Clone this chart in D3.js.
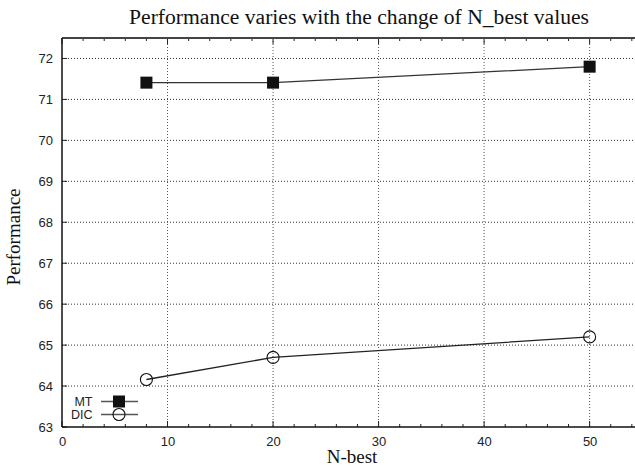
<!DOCTYPE html>
<html>
<head>
<meta charset="utf-8">
<script src="https://cdn.jsdelivr.net/npm/d3@7"></script>
<style>
  body { margin: 0; background: #fff; }
  .tick text { font-family: "Liberation Sans", Arial, sans-serif; }
</style>
</head>
<body>
<svg id="chart" width="635" height="467"></svg>
<script>
// data
var nBest = [8, 20, 50];
var mtValues = [71.41, 71.41, 71.80];
var dicValues = [64.16, 64.70, 65.20];
var seriesNames = ["MT", "DIC"];
var xTicks = [0, 10, 20, 30, 40, 50];
var yTicks = [63, 64, 65, 66, 67, 68, 69, 70, 71, 72];

var svg = d3.select("#chart");

// note: "top" clashes with window.top, so plot edges get their own names
var plotLeft = 62, plotRight = 635, plotTop = 38, plotBottom = 427;

var x = d3.scaleLinear().domain([0, 54.3]).range([plotLeft, plotRight]);
var y = d3.scaleLinear().domain([63, 72.5]).range([plotBottom, plotTop]);

// grid
svg.append("g")
  .selectAll("line")
  .data(yTicks.slice(1))
  .enter().append("line")
    .attr("x1", plotLeft).attr("x2", plotRight)
    .attr("y1", function(d){ return y(d); })
    .attr("y2", function(d){ return y(d); })
    .attr("stroke", "#333")
    .attr("stroke-width", 1)
    .attr("stroke-dasharray", "1,2");

svg.append("g")
  .selectAll("line")
  .data(xTicks.slice(1))
  .enter().append("line")
    .attr("x1", function(d){ return x(d); })
    .attr("x2", function(d){ return x(d); })
    .attr("y1", plotTop).attr("y2", plotBottom)
    .attr("stroke", "#555")
    .attr("stroke-width", 1)
    .attr("stroke-dasharray", "1,2");

// axes
var xAxis = d3.axisBottom(x).tickValues(xTicks).tickSize(0).tickPadding(10);
var gx = svg.append("g")
  .attr("transform", "translate(0," + plotBottom + ")")
  .call(xAxis);
gx.select(".domain").remove();
gx.selectAll(".tick text").attr("font-size", 13).attr("fill", "#222");

var yAxis = d3.axisLeft(y).tickValues(yTicks).tickSize(0).tickPadding(9);
var gy = svg.append("g")
  .attr("transform", "translate(" + plotLeft + ",0)")
  .call(yAxis);
gy.select(".domain").remove();
gy.selectAll(".tick text").attr("font-size", 13).attr("fill", "#222");

// ticks inside the frame
var minorX = d3.range(0, 55, 2);
svg.append("g").selectAll("line")
  .data(minorX)
  .enter().append("line")
    .attr("x1", function(d){ return x(d); })
    .attr("x2", function(d){ return x(d); })
    .attr("y1", plotBottom)
    .attr("y2", function(d){ return plotBottom - (d % 10 == 0 ? 6 : 3); })
    .attr("stroke", "#222");

svg.append("g").selectAll("line")
  .data(minorX)
  .enter().append("line")
    .attr("x1", function(d){ return x(d); })
    .attr("x2", function(d){ return x(d); })
    .attr("y1", plotTop)
    .attr("y2", function(d){ return plotTop + (d % 10 == 0 ? 6 : 3); })
    .attr("stroke", "#222");

svg.append("g").selectAll("line")
  .data(yTicks)
  .enter().append("line")
    .attr("x1", plotLeft).attr("x2", plotLeft + 5)
    .attr("y1", function(d){ return y(d); })
    .attr("y2", function(d){ return y(d); })
    .attr("stroke", "#222");

// frame
svg.append("line").attr("x1", plotLeft).attr("x2", plotRight).attr("y1", plotTop).attr("y2", plotTop)
  .attr("stroke", "#444").attr("stroke-width", 2);
svg.append("line").attr("x1", plotLeft).attr("x2", plotRight).attr("y1", plotBottom).attr("y2", plotBottom)
  .attr("stroke", "#111").attr("stroke-width", 1.5);
svg.append("line").attr("x1", plotLeft).attr("x2", plotLeft).attr("y1", plotTop).attr("y2", plotBottom)
  .attr("stroke", "#111").attr("stroke-width", 1.5);

// series
var line = d3.line()
  .x(function(d){ return x(d[0]); })
  .y(function(d){ return y(d[1]); });

var mt = d3.zip(nBest, mtValues);
var dic = d3.zip(nBest, dicValues);

svg.append("path").datum(mt)
  .attr("d", line).attr("fill", "none").attr("stroke", "#333").attr("stroke-width", 1.3);
svg.append("path").datum(dic)
  .attr("d", line).attr("fill", "none").attr("stroke", "#222").attr("stroke-width", 1.3);

svg.append("g").selectAll("rect")
  .data(mt)
  .enter().append("rect")
    .attr("x", function(d){ return x(d[0]) - 6; })
    .attr("y", function(d){ return y(d[1]) - 6; })
    .attr("width", 12).attr("height", 12)
    .attr("fill", "#111");

svg.append("g").selectAll("circle")
  .data(dic)
  .enter().append("circle")
    .attr("cx", function(d){ return x(d[0]); })
    .attr("cy", function(d){ return y(d[1]); })
    .attr("r", 6)
    .attr("fill", "none")
    .attr("stroke", "#111")
    .attr("stroke-width", 1.1);

// legend
var legend = svg.append("g");
seriesNames.forEach(function(name, i){
  var ly = 401.5 + i * 13;
  legend.append("text")
    .attr("x", 92.5).attr("y", ly + 4.5)
    .attr("text-anchor", "end")
    .attr("font-family", "Liberation Sans, Arial, sans-serif")
    .attr("font-size", 12.5)
    .attr("fill", "#222")
    .text(name);
  legend.append("line")
    .attr("x1", 101).attr("x2", 138)
    .attr("y1", ly).attr("y2", ly)
    .attr("stroke", "#555").attr("stroke-width", 1.3);
  if (i == 0) {
    legend.append("rect")
      .attr("x", 113).attr("y", ly - 6)
      .attr("width", 12).attr("height", 12)
      .attr("fill", "#111");
  } else {
    legend.append("circle")
      .attr("cx", 119).attr("cy", ly).attr("r", 6)
      .attr("fill", "none").attr("stroke", "#111").attr("stroke-width", 1.1);
  }
});

// titles
svg.append("text")
  .attr("x", 359).attr("y", 24)
  .attr("text-anchor", "middle")
  .attr("font-family", "Liberation Serif, Times New Roman, serif")
  .attr("font-size", 21.6)
  .attr("fill", "#111")
  .text("Performance varies with the change of N_best values");

svg.append("text")
  .attr("x", 352).attr("y", 463)
  .attr("text-anchor", "middle")
  .attr("font-family", "Liberation Serif, Times New Roman, serif")
  .attr("font-size", 19)
  .attr("fill", "#111")
  .text("N-best");

svg.append("text")
  .attr("transform", "translate(20,237) rotate(-90)")
  .attr("text-anchor", "middle")
  .attr("font-family", "Liberation Serif, Times New Roman, serif")
  .attr("font-size", 19)
  .attr("fill", "#111")
  .text("Performance");
</script>
</body>
</html>
